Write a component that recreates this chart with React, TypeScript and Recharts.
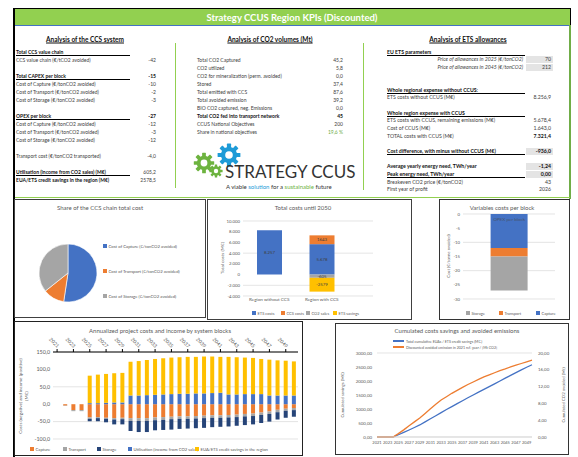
import React from 'react';
import {
  BarChart, Bar, LineChart, Line, PieChart, Pie, Cell,
  XAxis, YAxis, CartesianGrid, LabelList,
} from 'recharts';

const FONT = 'Lato, "Liberation Sans", Arial, sans-serif';
const TXT = '#595959';
const BLUE = '#4472C4';
const ORANGE = '#ED7D31';
const GRAY = '#A5A5A5';
const YELLOW = '#FFC000';
const NAVY = '#264478';
const GREEN = '#92D050';

// KPI tables: [flags, label, value]  (b bold, u underline, v bold value, i italic, c grey cell, g green, - gap)
type Row = [string, string, string];

const ccsSystemRows: Row[] = [
  ['bu', 'Total CCS value chain', ''],
  ['', 'CCS value chain (€/tCO2 avoided)', '-42'],
  ['-', '', ''],
  ['buv', 'Total CAPEX per block', '-15'],
  ['', 'Cost of Capture (€/tonCO2 avoided)', '-10'],
  ['', 'Cost of Transport (€/tonCO2 avoided)', '-2'],
  ['', 'Cost of Storage (€/tonCO2 avoided)', '-3'],
  ['-', '', ''],
  ['buv', 'OPEX per block', '-27'],
  ['', 'Cost of Capture (€/tonCO2 avoided)', '-12'],
  ['', 'Cost of Transport (€/tonCO2 avoided)', '-3'],
  ['', 'Cost of Storage (€/tonCO2 avoided)', '-12'],
  ['-', '', ''],
  ['', 'Transport cost (€/tonCO2 transported)', '-4,0'],
  ['-', '', ''],
  ['bu', 'Utilisation (income from CO2 sales)  (M€)', '605,2'],
  ['b', 'EUA/ETS credit savings in the region (M€)', '2578,5'],
];

const co2VolumeRows: Row[] = [
  ['', 'Total CO2 Captured', '45,2'],
  ['', 'CO2 utilized', '5,8'],
  ['', 'CO2  for mineralization (perm. avoided)', '0,0'],
  ['', 'Stored', '37,4'],
  ['', 'Total emitted with CCS', '87,6'],
  ['', 'Total avoided emission', '39,2'],
  ['', 'BIO CO2 captured, neg. Emissions', '0,0'],
  ['bv', 'Total CO2 fed into transport network', '45'],
  ['', 'CCUS National Objectives', '200'],
  ['g', 'Share in national objectives', '19,6 %'],
];

const etsRows: Row[] = [
  ['bu', 'EU ETS parameters', ''],
  ['ic', 'Price of allowances in 2025 (€/tonCO2)', '70'],
  ['ic', 'Price of allowances in 2045 (€/tonCO2)', '212'],
  ['-', '', ''],
  ['-', '', ''],
  ['bu', 'Whole regional expense without CCUS:', ''],
  ['', 'ETS costs without CCUS (M€)', '8.256,9'],
  ['-', '', ''],
  ['bu', 'Whole region expense with CCUS', ''],
  ['', 'ETS costs with CCUS, remaining emissions (M€)', '5.678,4'],
  ['', 'Cost of CCUS (M€)', '1.643,0'],
  ['v', 'TOTAL costs with CCUS (M€)', '7.321,4'],
  ['-', '', ''],
  ['buvc', 'Cost difference, with minus without CCUS (M€)', '-936,0'],
  ['-', '', ''],
  ['bvc', 'Average yearly energy need, TWh/year', '-1,24'],
  ['buvc', 'Peak energy need, TWh/year', '0,00'],
  ['', 'Breakeven CO2 price (€/tonCO2)', '43'],
  ['', 'First year of profit', '2026'],
];

// Share of the CCS chain total cost
const shareNames = [
  'Cost of Capture (€/tonCO2 avoided)',
  'Cost of Transport (€/tonCO2 avoided)',
  'Cost of Storage (€/tonCO2 avoided)',
];
const shareValues = [22, 5, 15];
const shareColors = [BLUE, ORANGE, GRAY];

// Total costs until 2050
const totalCats = ['Region without CCS', 'Region with CCS'];
const totalEts = [8257, 5678];
const totalCcs = [0, 1643];
const totalSales = [0, -605];
const totalSavings = [0, -2579];
const totalTicks = [-4000, -2000, 0, 2000, 4000, 6000, 8000, 10000];

// Variables costs per block
const blockCats = ['OPEX per block'];
const opexCapture = [-12];
const opexTransport = [-3];
const opexStorage = [-12];
const opexTicks = [-30, -25, -20, -15, -10, -5, 0];

// Annualized project costs and income
const years = [
  '2021', '2022', '2023', '2024', '2025', '2026', '2027', '2028', '2029', '2030',
  '2031', '2032', '2033', '2034', '2035', '2036', '2037', '2038', '2039', '2040',
  '2041', '2042', '2043', '2044', '2045', '2046', '2047', '2048', '2049', '2050',
];
const annCapture = [0, -4, -17, -17, -38, -37, -39, -40, -39, -40, -40, -40, -38, -37, -36, -35, -35, -34, -33, -32, -32, -31, -30, -28, -27, -24, -21, -16, -13, -11];
const annTransport = [0, -1, -3, -3, -4, -3, -3, -4, -4, -8, -8, -8, -8, -8, -7, -7, -7, -7, -7, -7, -7, -7, -7, -7, -7, -7, -7, -7, -6, -6];
const annStorage = [0, 0, 0, 0, -7, -9, -10, -14, -15, -29, -32, -32, -29, -29, -30, -29, -28, -28, -28, -27, -26, -26, -25, -25, -24, -23, -22, -21, -20, -19];
const annUtilisation = [0, 0, 0, 0, 3, 3, 4, 5, 5, 25, 25, 26, 27, 28, 29, 30, 30, 31, 31, 32, 33, 28, 28, 29, 29, 29, 25, 25, 25, 25];
const annEts = [0, 0, 0, 0, 79, 82, 83, 84, 85, 97, 99, 101, 103, 104, 105, 105, 106, 105, 106, 105, 103, 108, 107, 105, 104, 101, 103, 101, 100, 98];
const annTicks = [-100, -50, 0, 50, 100, 150];

// Cumulated costs savings and avoided emissions
const cumSavings = [0, 0, 0, 0, 80, 165, 250, 340, 430, 540, 650, 760, 870, 980, 1085, 1190, 1295, 1400, 1500, 1600, 1700, 1800, 1900, 2000, 2100, 2200, 2300, 2400, 2490, 2580];
const cumAvoided = [0, 0, 0, 0, 0.8, 1.7, 2.7, 3.6, 4.5, 5.6, 6.7, 7.8, 8.8, 9.6, 10.4, 11.1, 11.8, 12.5, 13.1, 13.7, 14.3, 14.8, 15.3, 15.8, 16.2, 16.7, 17.1, 17.5, 17.9, 18.3];
const cumLeftTicks = [0, 500, 1000, 1500, 2000, 2500, 3000];
const cumRightTicks = [0, 2, 4, 6, 8, 10, 12, 14, 16, 18, 20];

const de = new Intl.NumberFormat('de-DE');
const comma = (d: number) => (v: number) => v.toFixed(d).replace('.', ',');

function KpiTable({ rows, left, valueRight, top, step, size, lineRight = 0, labelRight = 0, cellLeft = 0 }: {
  rows: Row[]; left: number; valueRight: number; top: number; step: number; size: number;
  lineRight?: number; labelRight?: number; cellLeft?: number;
}) {
  return (
    <>
      {rows.map(([flags, label, value], i) => {
        if (flags === '-') return null;
        const y = top + i * step;
        const h = 7;
        const base: React.CSSProperties = {
          position: 'absolute', top: y - h / 2, height: h, lineHeight: `${h}px`,
          fontSize: size, whiteSpace: 'nowrap',
        };
        const italic = flags.includes('i');
        return (
          <React.Fragment key={i}>
            {flags.includes('c') && (
              <div style={{ position: 'absolute', left: cellLeft, top: y - h / 2, width: valueRight + 2 - cellLeft, height: h, background: '#E4E4E4' }} />
            )}
            <div style={{
              ...base, ...(italic ? { right: 578 - labelRight } : { left }),
              fontWeight: flags.includes('b') ? 700 : 400, fontStyle: italic ? 'italic' : 'normal',
              color: flags.includes('b') ? '#111' : '#404040',
            }}>{label}</div>
            <div style={{
              ...base, right: 578 - valueRight, fontWeight: flags.includes('v') ? 700 : 400,
              color: flags.includes('g') ? '#70AD47' : flags.includes('v') ? '#111' : '#404040',
            }}>{value}</div>
            {flags.includes('u') && (
              <div style={{ position: 'absolute', left, top: y + 3, width: lineRight - left, height: 1, background: '#000' }} />
            )}
          </React.Fragment>
        );
      })}
    </>
  );
}

function Title({ x, y, text, size = 6, bold = false, underline = false, color = TXT }: {
  x: number; y: number; text: string; size?: number; bold?: boolean; underline?: boolean; color?: string;
}) {
  return (
    <div style={{
      position: 'absolute', left: x, top: y, transform: 'translate(-50%,-50%)', fontSize: size,
      fontWeight: bold ? 700 : 400, textDecoration: underline ? 'underline' : 'none', color, whiteSpace: 'nowrap',
    }}>{text}</div>
  );
}

function VLabel({ x, y, size = 4.6, children }: { x: number; y: number; size?: number; children: React.ReactNode }) {
  return (
    <div style={{
      position: 'absolute', left: x, top: y, transform: 'translate(-50%,-50%) rotate(-90deg)',
      fontSize: size, color: TXT, whiteSpace: 'nowrap', textAlign: 'center', lineHeight: 1.25,
    }}>{children}</div>
  );
}

function Key({ x, y, color, text, line = false, size = 4.2 }: {
  x: number; y: number; color: string; text: string; line?: boolean; size?: number;
}) {
  return (
    <div style={{ position: 'absolute', left: x, top: y - 3, height: 6, display: 'flex', alignItems: 'center', fontSize: size, color: TXT, whiteSpace: 'nowrap' }}>
      <span style={{ display: 'inline-block', width: line ? 11 : 3.5, height: line ? 1.2 : 3.5, background: color, marginRight: 2 }} />
      {text}
    </div>
  );
}

function Box({ x, y, w, h, border = '1px solid #404040', children }: {
  x: number; y: number; w: number; h: number; border?: string; children?: React.ReactNode;
}) {
  return (
    <div style={{ position: 'absolute', left: x, top: y, width: w, height: h }}>
      {children}
      <div style={{ position: 'absolute', inset: 0, border, boxSizing: 'border-box', pointerEvents: 'none' }} />
    </div>
  );
}

function Gear({ cx, cy, r, color }: { cx: number; cy: number; r: number; color: string }) {
  const angles = [0, 45, 90, 135, 180, 225, 270, 315];
  return (
    <g>
      {angles.map((a) => (
        <rect key={a} x={cx - r * 0.22} y={cy - r * 1.2} width={r * 0.44} height={r * 0.5} rx={r * 0.06}
          fill={color} transform={`rotate(${a} ${cx} ${cy})`} />
      ))}
      <circle cx={cx} cy={cy} r={r * 0.85} fill={color} />
      <circle cx={cx} cy={cy} r={r * 0.4} fill="#fff" />
    </g>
  );
}

const tick = (size: number) => ({ fontSize: size, fill: TXT });

function TopYearTick(props: any) {
  const { x, y, payload } = props;
  return (
    <text x={x} y={y} transform={`rotate(45 ${x} ${y})`} textAnchor="end" fontSize={5} fill={TXT}>
      {payload.value}
    </text>
  );
}

function PlainTick(props: any) {
  const { x, y, payload } = props;
  return (
    <text x={x} y={y + 4} textAnchor="middle" fontSize={4.6} fill={TXT}>{payload.value}</text>
  );
}

export default function App() {
  const pieData = shareNames.map((name, i) => ({ name, value: shareValues[i] }));
  const totalData = totalCats.map((name, i) => ({
    name, ets: totalEts[i], ccs: totalCcs[i], sales: totalSales[i], savings: totalSavings[i],
  }));
  const opexData = blockCats.map((name, i) => ({
    name, capture: opexCapture[i], transport: opexTransport[i], storage: opexStorage[i],
  }));
  const annData = years.map((year, i) => ({
    year, capture: annCapture[i], transport: annTransport[i], storage: annStorage[i],
    utilisation: annUtilisation[i], ets: annEts[i],
  }));
  const cumData = years.map((year, i) => ({ year, savings: cumSavings[i], avoided: cumAvoided[i] }));

  const barLabel = (fmt: (v: number) => string) => (v: any) => (v ? fmt(Number(v)) : '');

  return (
    <div style={{ position: 'fixed', left: 0, top: 0, width: 578, height: 457, background: '#fff', overflow: 'hidden', fontFamily: FONT }}>
      {/* header */}
      <div style={{
        position: 'absolute', left: 14, top: 8, width: 557, height: 18, background: GREEN,
        borderTop: '1px solid #000', borderRight: '1px solid #000', borderBottom: `1.5px solid ${BLUE}`, boxSizing: 'border-box',
      }} />
      <Title x={292} y={17} text="Strategy CCUS Region KPIs (Discounted)" size={9.5} bold color="#fff" />
      <div style={{ position: 'absolute', left: 13, top: 8, width: 2, height: 449, background: '#000' }} />

      {/* top section frame */}
      <div style={{ position: 'absolute', left: 175, top: 43, width: 1, height: 145, background: GREEN }} />
      <div style={{ position: 'absolute', left: 363, top: 43, width: 1, height: 147, background: GREEN }} />
      <div style={{ position: 'absolute', left: 569, top: 25, width: 1.5, height: 174, background: '#70AD47' }} />
      <div style={{ position: 'absolute', left: 15, top: 197, width: 555, height: 1, background: GREEN }} />

      <Title x={85} y={39} text="Analysis of the CCS system" size={6.5} bold underline color="#111" />
      <Title x={270} y={39} text="Analysis of CO2 volumes (Mt)" size={6.5} bold underline color="#111" />
      <Title x={468} y={39} text="Analysis of ETS allowances" size={6.5} bold underline color="#111" />

      <KpiTable rows={ccsSystemRows} left={16} valueRight={156} top={52} step={8} size={5} lineRight={130} />
      <KpiTable rows={co2VolumeRows} left={197} valueRight={343} top={60} step={8} size={5} />
      <KpiTable rows={etsRows} left={387} valueRight={551} top={52} step={7.65} size={5.2}
        lineRight={525} labelRight={523} cellLeft={526} />

      {/* logo */}
      <svg style={{ position: 'absolute', left: 190, top: 140, width: 60, height: 40 }} viewBox="190 140 60 40">
        <Gear cx={204} cy={163} r={8.5} color="#6DB33F" />
        <Gear cx={216} cy={171} r={5.5} color="#6DB33F" />
        <Gear cx={229} cy={155} r={9.5} color="#1E9BD7" />
      </svg>
      <div style={{ position: 'absolute', left: 225, top: 163, fontSize: 17, lineHeight: '18px', color: '#333', whiteSpace: 'nowrap' }}>
        STRATEGY CCUS
      </div>
      <div style={{ position: 'absolute', left: 226, top: 183, fontSize: 6, lineHeight: '7px', color: '#333', whiteSpace: 'nowrap' }}>
        A viable <span style={{ color: '#1E9BD7' }}>solution</span> for a <span style={{ color: '#6DB33F' }}>sustainable</span> future
      </div>

      {/* pie */}
      <Box x={14} y={199} w={192} h={119}>
        <Title x={86} y={8} text="Share of the CCS chain total cost" />
        <div style={{ position: 'absolute', left: 0, top: 0 }}>
          <PieChart width={90} height={119}>
            <Pie data={pieData} dataKey="value" nameKey="name" cx={49} cy={69} outerRadius={29}
              startAngle={90} endAngle={-270} stroke="#fff" strokeWidth={0.6} isAnimationActive={false}>
              {pieData.map((d, i) => <Cell key={d.name} fill={shareColors[i]} />)}
            </Pie>
          </PieChart>
        </div>
        {shareNames.map((n, i) => (
          <Key key={n} x={89} y={47 + i * 25} color={shareColors[i]} text={n} size={4.3} />
        ))}
      </Box>

      {/* total costs */}
      <Box x={207} y={199} w={205} h={121}>
        <Title x={96} y={8} text="Total costs until 2050" />
        <VLabel x={16} y={59}>Total costs (M€)</VLabel>
        <div style={{ position: 'absolute', left: 0, top: 0 }}>
          <BarChart width={205} height={121} data={totalData} stackOffset="sign" margin={{ top: 22, right: 39, left: 0, bottom: 0 }}>
            <CartesianGrid vertical={false} stroke="#D9D9D9" strokeWidth={0.7} />
            <XAxis dataKey="name" height={24} axisLine={false} tickLine={false} tickSize={0} tickMargin={1}
              interval={0} tick={<PlainTick />} padding={{ left: 0, right: 25 }} />
            <YAxis width={36} domain={[-4000, 10000]} ticks={totalTicks} tickFormatter={(v) => de.format(v)}
              axisLine={false} tickLine={false} tickSize={0} tickMargin={3} tick={tick(4.3)} />
            <Bar dataKey="ets" stackId="t" fill={BLUE} barSize={25} isAnimationActive={false}>
              <LabelList dataKey="ets" position="center" fontSize={4.3} fill="#404040" formatter={barLabel((v) => de.format(v))} />
            </Bar>
            <Bar dataKey="ccs" stackId="t" fill={ORANGE} barSize={25} isAnimationActive={false}>
              <LabelList dataKey="ccs" position="center" fontSize={4.3} fill="#404040" formatter={barLabel(String)} />
            </Bar>
            <Bar dataKey="sales" stackId="t" fill={GRAY} barSize={25} isAnimationActive={false}>
              <LabelList dataKey="sales" position="center" fontSize={4.3} fill="#404040" formatter={barLabel(String)} />
            </Bar>
            <Bar dataKey="savings" stackId="t" fill={YELLOW} barSize={25} isAnimationActive={false}>
              <LabelList dataKey="savings" position="center" fontSize={4.3} fill="#404040" formatter={barLabel(String)} />
            </Bar>
          </BarChart>
        </div>
        <Key x={45} y={114} color={BLUE} text="ETS costs" size={4} />
        <Key x={74} y={114} color={ORANGE} text="CCS costs" size={4} />
        <Key x={99} y={114} color={GRAY} text="CO2 sales" size={4} />
        <Key x={126} y={114} color={YELLOW} text="ETS savings" size={4} />
      </Box>

      {/* variable costs */}
      <Box x={439} y={199} w={131} h={121} border="1.5px solid #333">
        <Title x={63} y={8} text="Variables costs per block" />
        <VLabel x={10} y={57} size={4.3}>Cost (€/tonne avoided)</VLabel>
        <div style={{ position: 'absolute', left: 0, top: 0 }}>
          <BarChart width={131} height={121} data={opexData} stackOffset="sign" barCategoryGap="30%"
            margin={{ top: 15, right: 15, left: 0, bottom: 21 }}>
            <CartesianGrid vertical={false} stroke="#D9D9D9" strokeWidth={0.7} />
            <XAxis dataKey="name" hide />
            <YAxis width={24} domain={[-30, 0]} ticks={opexTicks} axisLine={false} tickLine={false}
              tickSize={0} tickMargin={3} tick={tick(4.3)} />
            <Bar dataKey="capture" stackId="o" fill={BLUE} isAnimationActive={false}>
              <LabelList dataKey="name" content={(p: any) => (
                <text x={p.x + p.width / 2} y={Math.min(p.y, p.y + p.height) + 7} textAnchor="middle" fontSize={4.6} fill="#44546A">
                  {p.value}
                </text>
              )} />
            </Bar>
            <Bar dataKey="transport" stackId="o" fill={ORANGE} isAnimationActive={false} />
            <Bar dataKey="storage" stackId="o" fill={GRAY} isAnimationActive={false} />
          </BarChart>
        </div>
        <Key x={27} y={114} color={GRAY} text="Storage" size={4} />
        <Key x={60} y={114} color={ORANGE} text="Transport" size={4} />
        <Key x={97} y={114} color={BLUE} text="Capture" size={4} />
      </Box>

      {/* annualized */}
      <Box x={14} y={321} w={289} h={135} border="1.5px solid #222">
        <Title x={146} y={9} text="Annualized project costs and income by system blocks" />
        <VLabel x={10} y={75} size={4.6}>Costs (negative) and income (positive)<br />(M€)</VLabel>
        <div style={{ position: 'absolute', left: 0, top: 0 }}>
          <BarChart width={289} height={135} data={annData} stackOffset="sign" barCategoryGap="25%"
            margin={{ top: 6, right: 5, left: 0, bottom: 17 }}>
            <CartesianGrid vertical={false} stroke="#D9D9D9" strokeWidth={0.7} />
            <XAxis dataKey="year" orientation="top" height={25} interval={1} tick={<TopYearTick />}
              axisLine={{ stroke: '#000', strokeWidth: 1 }} tickLine={{ stroke: '#000' }} tickSize={3} tickMargin={1} />
            <YAxis width={39} domain={[-100, 150]} ticks={annTicks} tickFormatter={comma(1)}
              axisLine={false} tickLine={false} tickSize={0} tickMargin={3} tick={tick(5.3)} />
            <Bar dataKey="capture" stackId="a" fill={ORANGE} isAnimationActive={false} />
            <Bar dataKey="transport" stackId="a" fill={GRAY} isAnimationActive={false} />
            <Bar dataKey="storage" stackId="a" fill={NAVY} isAnimationActive={false} />
            <Bar dataKey="utilisation" stackId="a" fill={BLUE} isAnimationActive={false} />
            <Bar dataKey="ets" stackId="a" fill={YELLOW} isAnimationActive={false} />
          </BarChart>
        </div>
        <Key x={16} y={128} color={ORANGE} text="Capture" />
        <Key x={49} y={128} color={GRAY} text="Transport" />
        <Key x={83} y={128} color={NAVY} text="Storage" />
        <Key x={114} y={128} color={BLUE} text="Utilisation (income from CO2 sales)" />
        <Key x={181} y={128} color={YELLOW} text="EUA/ETS credit savings in the region" />
      </Box>

      {/* cumulated */}
      <Box x={335} y={323} w={234} h={132} border="1.2px solid #333">
        <Title x={122} y={7} text="Cumulated costs savings and avoided emissions" />
        <Key x={58} y={18} color={BLUE} text="Total cumulative EUAs / ETS credit savings (M€.)" line size={3.6} />
        <Key x={58} y={24} color={ORANGE} text="Discounted avoided emission in 2021 ref. year / [Mt CO2]" line size={3.6} />
        <VLabel x={8} y={72} size={4.3}>Cumulated savings (M€)</VLabel>
        <VLabel x={229} y={72} size={4.3}>Cumulated CO2 avoided (Mt)</VLabel>
        <div style={{ position: 'absolute', left: 0, top: 0 }}>
          <LineChart width={234} height={132} data={cumData} margin={{ top: 30, right: 0, left: 0, bottom: 0 }}>
            <CartesianGrid vertical={false} stroke="#D9D9D9" strokeWidth={0.7} />
            <XAxis dataKey="year" height={18} interval={1} axisLine={{ stroke: '#D9D9D9' }} tickLine={false}
              tickSize={0} tickMargin={4} tick={tick(4)} />
            <YAxis yAxisId="l" width={42} domain={[0, 3000]} ticks={cumLeftTicks} tickFormatter={comma(2)}
              axisLine={false} tickLine={false} tickSize={0} tickMargin={5} tick={tick(4.4)} />
            <YAxis yAxisId="r" orientation="right" width={37} domain={[0, 20]} ticks={cumRightTicks} tickFormatter={comma(2)}
              axisLine={false} tickLine={false} tickSize={0} tickMargin={6} tick={tick(4.4)} />
            <Line yAxisId="l" dataKey="savings" stroke={BLUE} strokeWidth={1.3} dot={false} isAnimationActive={false} />
            <Line yAxisId="r" dataKey="avoided" stroke={ORANGE} strokeWidth={1.3} dot={false} isAnimationActive={false} />
          </LineChart>
        </div>
      </Box>
    </div>
  );
}
